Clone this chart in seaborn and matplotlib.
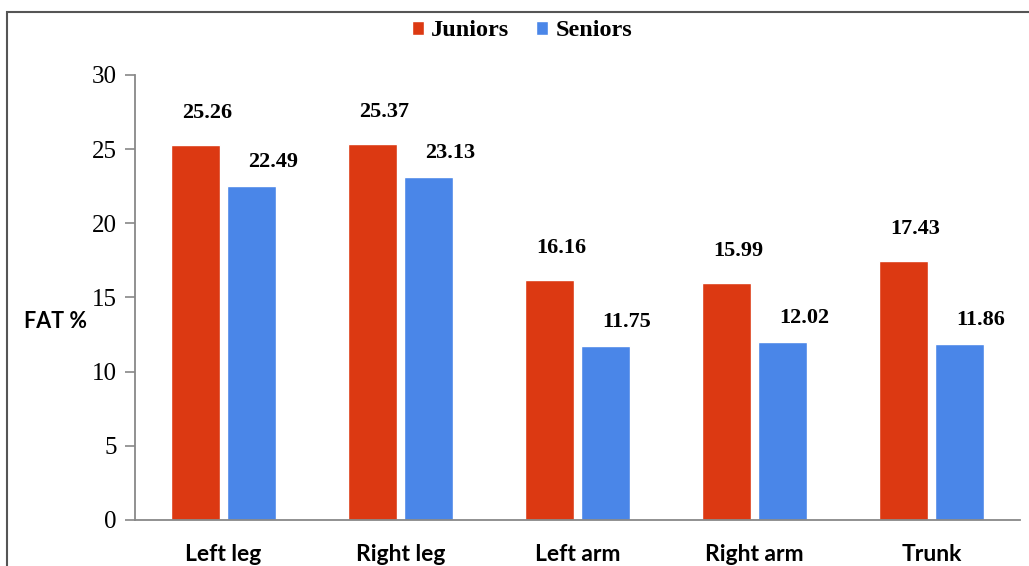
import numpy as np
import pandas as pd
import matplotlib
matplotlib.use("Agg")
import matplotlib.pyplot as plt
from matplotlib.patches import Patch, Rectangle
import seaborn as sns

regions = ["Left leg", "Right leg", "Left arm", "Right arm", "Trunk"]
juniors = [25.26, 25.37, 16.16, 15.99, 17.43]
seniors = [22.49, 23.13, 11.75, 12.02, 11.86]
groups = ["Juniors", "Seniors"]
y_ticks = [0, 5, 10, 15, 20, 25, 30]

colors = {"Juniors": "#DC3912", "Seniors": "#4A86E8"}

df = pd.DataFrame({
    "region": regions * 2,
    "fat": juniors + seniors,
    "group": ["Juniors"] * len(regions) + ["Seniors"] * len(regions),
})

sns.set_style("white")
plt.rcParams["text.color"] = "black"
plt.rcParams["xtick.color"] = "black"
plt.rcParams["ytick.color"] = "black"
serif = ["Liberation Serif", "DejaVu Serif"]
sans = ["Lato", "DejaVu Sans"]

fig = plt.figure(figsize=(10.29, 5.66), dpi=100)
ax = fig.add_axes([0.1312, 0.0813, 0.8601, 0.7862])

sns.barplot(data=df, x="region", y="fat", hue="group", order=regions,
            hue_order=groups, palette=colors, width=0.64, gap=0.134,
            errorbar=None, legend=False, ax=ax, saturation=1)

ax.set_ylim(0, 30)
ax.set_xlim(-0.5, len(regions) - 0.5)
ax.set_yticks(y_ticks)
ax.set_yticklabels([str(t) for t in y_ticks], fontfamily=serif, fontsize=18, color="black")
ax.set_xticks(range(len(regions)))
ax.set_xticklabels(regions, fontfamily=sans, fontweight="bold", fontsize=16.5, color="black")
ax.set_xticks(np.arange(-0.5, len(regions)), minor=True)
ax.tick_params(axis="x", which="major", length=0, pad=17)
ax.tick_params(axis="x", which="minor", length=8, color="#888888", width=1.2)
ax.tick_params(axis="y", length=7, color="#888888", width=1.2, pad=6, left=True)
ax.set_xlabel("")
ax.set_ylabel("FAT %", rotation=0, fontfamily=sans, fontweight="bold",
              fontsize=15.5, ha="center", va="center", color="black")
ax.yaxis.set_label_coords(-0.09, 0.445)

for s in ["top", "right"]:
    ax.spines[s].set_visible(False)
for s in ["left", "bottom"]:
    ax.spines[s].set_color("#888888")
    ax.spines[s].set_linewidth(1.3)

# value labels above bars
for container, vals, dx, dy in zip(ax.containers, [juniors, seniors], [12, 21], [32, 24]):
    for bar, v in zip(container, vals):
        ax.annotate(f"{v:.2f}", (bar.get_x() + bar.get_width() / 2, bar.get_height()),
                    xytext=(dx, dy), textcoords="offset pixels", ha="center", va="center",
                    fontfamily=serif, fontweight="bold", fontsize=16, color="black")

handles = [Patch(facecolor=colors[g], label=g) for g in groups]
fig.legend(handles=handles, loc="center", bbox_to_anchor=(522 / 1029, 1 - 31 / 566),
           ncol=2, frameon=False, handlelength=0.5, handleheight=0.5,
           handletextpad=0.3, columnspacing=1.1,
           prop={"family": serif, "weight": "bold", "size": 17.5})

fig.add_artist(Rectangle((7 / 1029, -0.1), 1.2, 1.1 - 12 / 566, transform=fig.transFigure,
                         fill=False, edgecolor="#555555", linewidth=1.5, clip_on=False))

fig.savefig("out.png", dpi=100)
